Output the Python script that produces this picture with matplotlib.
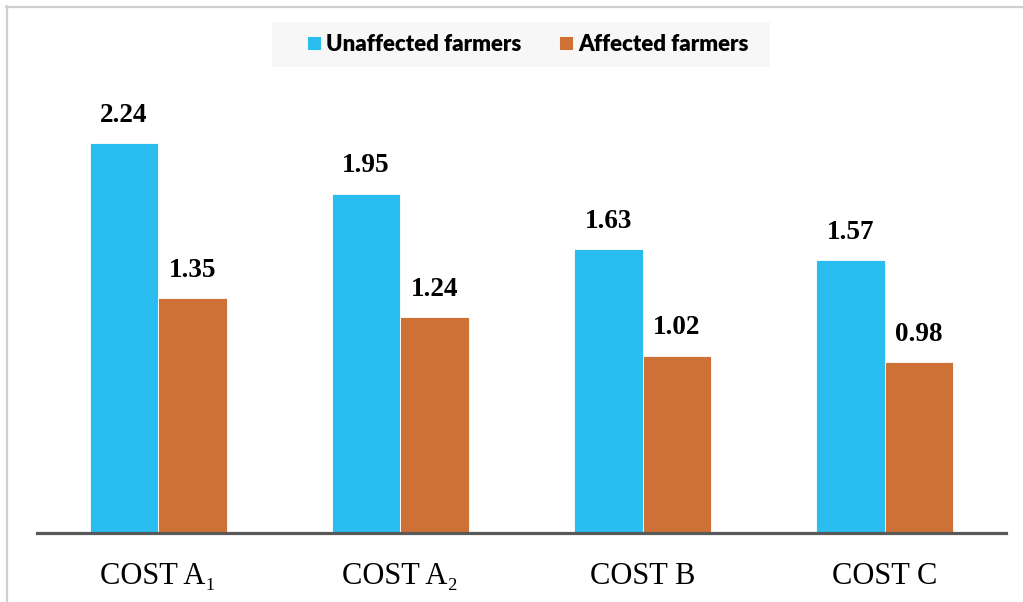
import numpy as np
import matplotlib
matplotlib.use("Agg")
import matplotlib.pyplot as plt
from matplotlib.lines import Line2D

categories = ["COST A\u2081", "COST A\u2082", "COST B", "COST C"]
unaffected = [2.24, 1.95, 1.63, 1.57]
affected = [1.35, 1.24, 1.02, 0.98]
series_names = ["Unaffected farmers", "Affected farmers"]

BLUE = "#29BDF0"
ORANGE = "#CD7137"
SERIF = ["Liberation Serif", "DejaVu Serif"]

W, H, DPI = 1023, 602, 100
fig = plt.figure(figsize=(W / DPI, H / DPI), dpi=DPI, facecolor="white")
ax = fig.add_axes([37 / W, 1 - 533 / H, 969 / W, 522 / H])

x = np.arange(len(categories))
width = 0.283
b1 = ax.bar(x - width / 2, unaffected, width, color=BLUE, edgecolor="white", linewidth=0.6)
b2 = ax.bar(x + width / 2, affected, width, color=ORANGE, edgecolor="white", linewidth=0.6)

for bars in (b1, b2):
    for bar in bars:
        h = bar.get_height()
        ax.annotate(f"{h:.2f}", (bar.get_x() + bar.get_width() / 2, h),
                    xytext=(0, 11), textcoords="offset points",
                    ha="center", va="bottom", fontsize=19.5, fontweight="bold",
                    family=SERIF)

ax.set_xlim(-0.5, len(categories) - 0.5)
ax.set_ylim(0, 3.0)
ax.set_xticks(x)
ax.set_xticklabels(categories, fontsize=22, family=SERIF)
ax.tick_params(axis="x", length=0, pad=21)
ax.set_yticks([])
for side in ("top", "right", "left"):
    ax.spines[side].set_visible(False)
ax.spines["bottom"].set_color("#595959")
ax.spines["bottom"].set_linewidth(2.3)

# legend in a light grey strip above the bars
fig.patches.append(plt.Rectangle((272 / W, 1 - 67 / H), 498 / W, 45 / H,
                                 transform=fig.transFigure, facecolor="#F7F7F7",
                                 edgecolor="none", zorder=0))
handles = [Line2D([], [], marker="s", linestyle="none", markersize=9.5,
                  markerfacecolor=c, markeredgecolor="white", markeredgewidth=0.6)
           for c in (BLUE, ORANGE)]
fig.legend(handles, series_names, loc="center", bbox_to_anchor=(526 / W, 1 - 44.5 / H),
           ncol=2, frameon=False, handletextpad=0.05, columnspacing=1.5,
           handlelength=1.0,
           prop={"family": "Lato", "weight": "heavy", "size": 16})

# outer frame (top and left edges)
fig.add_artist(Line2D([6 / W, 1], [1 - 7 / H, 1 - 7 / H], color="#D0D0D0", linewidth=1.6))
fig.add_artist(Line2D([7 / W, 7 / W], [0, 1 - 6 / H], color="#D0D0D0", linewidth=1.6))

fig.savefig("out.png", dpi=DPI, facecolor="white")
plt.close(fig)
